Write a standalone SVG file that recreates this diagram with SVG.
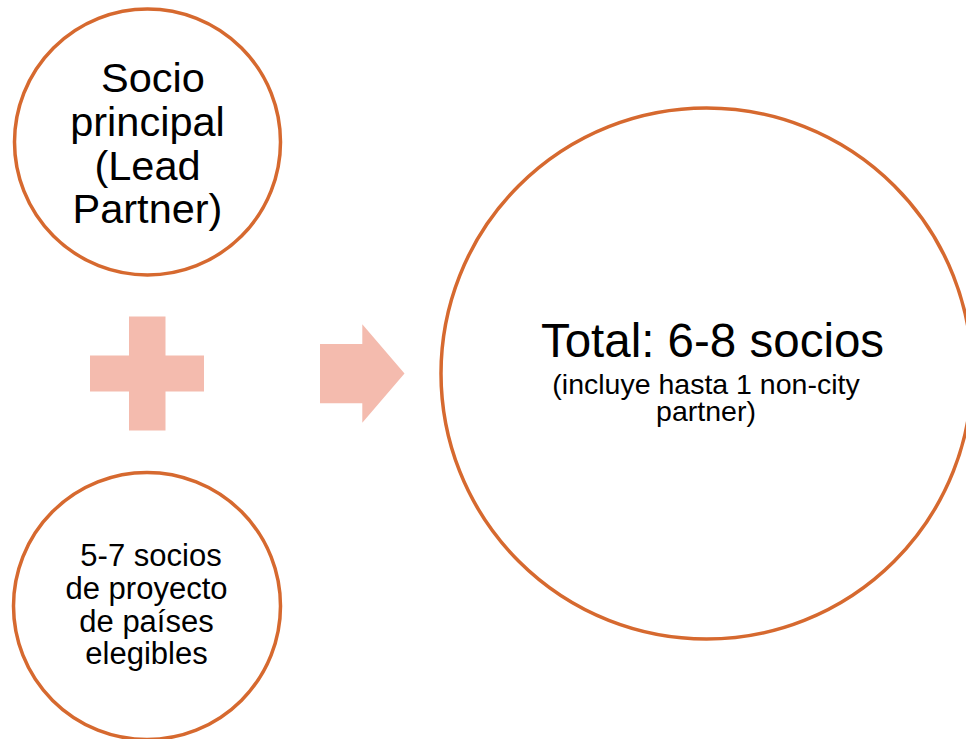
<svg xmlns="http://www.w3.org/2000/svg" width="966" height="739" viewBox="0 0 966 739">
<style>
.c{fill:#FFFFFF;stroke:#D6692F;stroke-width:3.5}
.s{fill:#F4BBAE}
text{font-family:"Liberation Sans",Arial,sans-serif;fill:#000000;text-anchor:middle}
</style>
<rect width="966" height="739" fill="#FFFFFF"/>
<g id="lead">
<circle class="c" cx="147.5" cy="142" r="133"/>
<text font-size="41.5"><tspan x="153" y="91.5">Socio</tspan><tspan x="147.5" y="135.5">principal</tspan><tspan x="147.5" y="179.5">(Lead</tspan><tspan x="147.5" y="223">Partner)</tspan></text>
</g>
<g id="partners">
<circle class="c" cx="147" cy="606" r="133.5"/>
<text font-size="31"><tspan x="151" y="566">5-7 socios</tspan><tspan x="146.5" y="599">de proyecto</tspan><tspan x="146.5" y="632">de países</tspan><tspan x="146.5" y="664">elegibles</tspan></text>
</g>
<g id="total">
<circle class="c" cx="706.5" cy="373.5" r="265.5"/>
<text font-size="47.5" x="712.5" y="357">Total: 6-8 socios</text>
<text font-size="28.5"><tspan x="706" y="393.5">(incluye hasta 1 non-city</tspan><tspan x="706" y="421">partner)</tspan></text>
</g>
<g id="connectors">
<path class="s" d="M129,316.5H165.5V355.5H204V391.5H165.5V430.5H129V391.5H90V355.5H129Z"/>
<path class="s" d="M320,344H362.3V324.3L404.5,373.5L362.3,422.7V403.3H320Z"/>
</g>
</svg>
